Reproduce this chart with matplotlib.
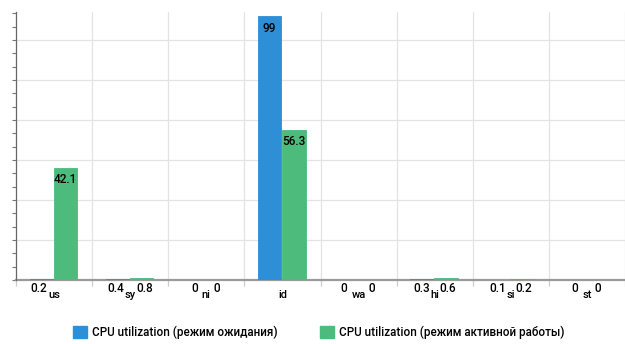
import matplotlib
matplotlib.use('Agg')
import matplotlib.pyplot as plt
from matplotlib.patches import Patch

plt.rcParams['font.family'] = ['Roboto', 'DejaVu Sans']
plt.rcParams['font.weight'] = 'medium'

# CPU utilization by state, %
categories = ['us', 'sy', 'ni', 'id', 'wa', 'hi', 'si', 'st']
idle_values = [0.2, 0.4, 0, 99, 0, 0.3, 0.1, 0]
active_values = [42.1, 0.8, 0, 56.3, 0, 0.6, 0.2, 0]
series_names = ['CPU utilization (режим ожидания)', 'CPU utilization (режим активной работы)']

blue = '#2f8fd6'
green = '#4dbb7b'
inside_threshold = 5


def fmt(v):
    return f'{v:g}'


fig = plt.figure(figsize=(6.25, 3.44), dpi=100)
ax = fig.add_axes([16 / 625, 64 / 344, 609 / 625, 268 / 344])

x = list(range(len(categories)))
ax.bar([i - 0.17 for i in x], idle_values, width=0.30, color=blue,
       edgecolor=blue, linewidth=0.6, zorder=3)
ax.bar([i + 0.15 for i in x], active_values, width=0.31, color=green,
       edgecolor=green, linewidth=0.6, zorder=3)

ax.set_xlim(-0.5, -0.5 + 609 / 77)
ax.set_ylim(0, 100.5)

# grid
for yv in range(15, 100, 15):
    ax.axhline(yv, color='#e3e3e3', lw=0.9, zorder=1)
for i in range(len(categories)):
    ax.axvline(i + 0.5, color='#e3e3e3', lw=0.9, zorder=1)

ax.set_yticks(range(0, 101, 5))
ax.set_yticklabels([])
ax.tick_params(axis='y', length=3, width=0.8, color='#777777', direction='out')
ax.set_xticks([i - 0.5 for i in range(len(categories) + 1)])
ax.set_xticklabels([])
ax.tick_params(axis='x', length=4, width=0.9, color='#cccccc', direction='out')

for s in ['top', 'right']:
    ax.spines[s].set_visible(False)
ax.spines['left'].set_color('#666666')
ax.spines['left'].set_linewidth(0.9)
ax.spines['bottom'].set_color('#9a9a9a')
ax.spines['bottom'].set_linewidth(1.6)
ax.spines['bottom'].set_zorder(2)

# labels under the axis and inside the bars
for i, cat in enumerate(categories):
    t = ax.annotate(cat, xy=(i, 0), xycoords=('data', 'axes fraction'),
                    xytext=(0, -12.6), textcoords='offset points',
                    ha='center', va='baseline', fontsize=8)
    iv, av = idle_values[i], active_values[i]
    if iv < inside_threshold:
        s = fmt(iv) + (' ' if iv == 0 else '')
        ax.annotate(s, xy=(0, 0), xycoords=(t, 'axes fraction'),
                    xytext=(-0.5, -8.4), textcoords='offset points',
                    ha='right', va='baseline', fontsize=8.5)
    else:
        ax.annotate(fmt(iv), xy=(i - 0.17, iv), xytext=(0, -4),
                    textcoords='offset points', ha='center', va='top',
                    fontsize=8.5, zorder=5)
    if av < inside_threshold:
        s = (' ' if av == 0 else '') + fmt(av)
        ax.annotate(s, xy=(1, 0), xycoords=(t, 'axes fraction'),
                    xytext=(0.5, -8.4), textcoords='offset points',
                    ha='left', va='baseline', fontsize=8.5)
    else:
        ax.annotate(fmt(av), xy=(i + 0.15, av), xytext=(0, -4),
                    textcoords='offset points', ha='center', va='top',
                    fontsize=8.5, zorder=5)

handles = [Patch(facecolor=blue, edgecolor=blue), Patch(facecolor=green, edgecolor=green)]
fig.legend(handles, series_names, loc='center', bbox_to_anchor=(319 / 625, 12 / 344),
           ncol=2, frameon=False, fontsize=8.4, handlelength=1.2, handleheight=1.2,
           handletextpad=0.45, columnspacing=3.6)

fig.savefig('out.png', dpi=100)
